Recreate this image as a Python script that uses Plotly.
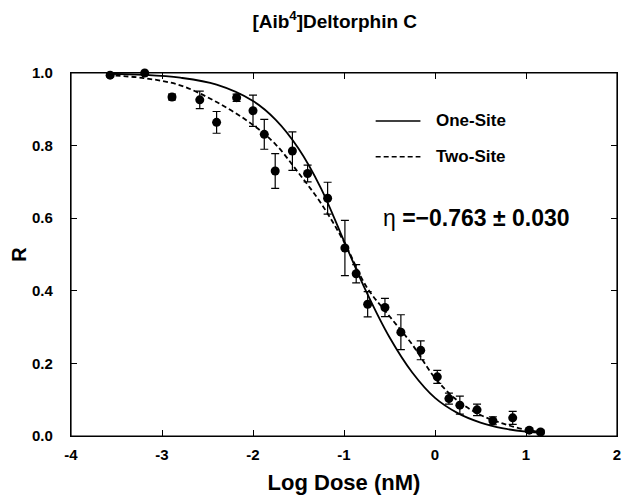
import plotly.graph_objects as go

# ---- data ----
dose_log = [-3.57, -3.19, -2.89, -2.585, -2.40, -2.18, -2.00, -1.876, -1.756, -1.567,
            -1.40, -1.18, -0.99, -0.866, -0.74, -0.55, -0.375, -0.157, 0.025, 0.153,
            0.273, 0.462, 0.636, 0.854, 1.036, 1.16]
r_mean = [0.994, 1.000, 0.934, 0.926, 0.864, 0.932, 0.896, 0.831, 0.730, 0.785,
          0.723, 0.655, 0.518, 0.447, 0.363, 0.354, 0.286, 0.236, 0.163, 0.103,
          0.085, 0.072, 0.042, 0.050, 0.016, 0.011]
r_err = [0.005, 0.004, 0.008, 0.024, 0.030, 0.010, 0.043, 0.041, 0.048, 0.053,
         0.023, 0.044, 0.076, 0.025, 0.035, 0.025, 0.048, 0.026, 0.018, 0.015,
         0.025, 0.016, 0.011, 0.018, 0.006, 0.005]

curve_x = [-3.6, -3.2, -2.8, -2.4, -2.0, -1.75, -1.5, -1.25, -1.0, -0.75,
           -0.5, -0.25, 0.0, 0.25, 0.5, 0.75, 1.0, 1.2]
one_site = [0.998, 0.995, 0.987, 0.968, 0.923, 0.871, 0.792, 0.681, 0.537, 0.395,
            0.272, 0.175, 0.105, 0.063, 0.037, 0.021, 0.012, 0.008]
two_site = [0.994, 0.986, 0.966, 0.920, 0.857, 0.803, 0.725, 0.640, 0.535, 0.410,
            0.330, 0.252, 0.160, 0.097, 0.058, 0.034, 0.017, 0.010]

x_tick_vals = [-4, -3, -2, -1, 0, 1, 2]
x_tick_text = ["-4", "-3", "-2", "-1", "0", "1", "2"]
y_tick_vals = [0.0, 0.2, 0.4, 0.6, 0.8, 1.0]

FONT = "Liberation Sans, Arial, sans-serif"

fig = go.Figure()
fig.add_trace(go.Scatter(x=curve_x, y=one_site, mode="lines", line_shape="spline",
                         line=dict(color="black", width=1.8), showlegend=False,
                         cliponaxis=False))
fig.add_trace(go.Scatter(x=curve_x, y=two_site, mode="lines", line_shape="spline",
                         line=dict(color="black", width=1.8, dash="5px,3px"),
                         showlegend=False, cliponaxis=False))
fig.add_trace(go.Scatter(x=dose_log, y=r_mean, mode="markers",
                         marker=dict(color="black", size=9, symbol="circle"),
                         error_y=dict(type="data", array=r_err, color="black",
                                      thickness=1.2, width=4),
                         showlegend=False, cliponaxis=False))

# plot frame
fig.add_shape(type="rect", xref="paper", yref="paper", x0=0, x1=1, y0=0, y1=1,
              line=dict(color="black", width=1.2), layer="above")

# legend drawn manually
legend_items = [("One-Site", "solid", 0.868), ("Two-Site", "5px,3px", 0.769)]
for name, dash, yp in legend_items:
    fig.add_shape(type="line", xref="paper", yref="paper", x0=0.558, x1=0.64,
                  y0=yp, y1=yp, line=dict(color="black", width=1.5, dash=dash))
    fig.add_annotation(xref="paper", yref="paper", x=0.665, y=yp, text=name,
                       showarrow=False, xanchor="left", yanchor="middle",
                       font=dict(family=FONT, size=17, color="black", weight="bold"))

fig.add_annotation(xref="paper", yref="paper", x=0.567, y=0.60,
                   text="η <b>=−0.763 ± 0.030</b>", showarrow=False,
                   xanchor="left", yanchor="middle",
                   font=dict(family=FONT, size=23, color="black"))

fig.update_layout(
    width=628, height=499,
    margin=dict(l=71, r=7, t=73, b=63),
    paper_bgcolor="white", plot_bgcolor="white",
    title=dict(text="[Aib<sup>4</sup>]Deltorphin C", xref="container", x=0.533,
               y=0.958, xanchor="center", yanchor="middle",
               font=dict(family=FONT, size=19, color="black", weight="bold")),
    font=dict(family=FONT, color="black"),
)
fig.update_xaxes(range=[-4, 2], tickvals=x_tick_vals, ticktext=x_tick_text,
                 showgrid=False, zeroline=False, showline=True, linecolor="black",
                 linewidth=1.2, mirror="ticks", ticks="inside", ticklen=6,
                 tickwidth=1.2, tickcolor="black",
                 tickfont=dict(family=FONT, size=15, weight="bold"),
                 ticklabelstandoff=5, ticklabeloverflow="allow",
                 title=dict(text="Log Dose (nM)", standoff=12,
                            font=dict(family=FONT, size=22, weight="bold")))
fig.update_yaxes(range=[0, 1.0], tickvals=y_tick_vals, tickformat=".1f",
                 showgrid=False, zeroline=False, showline=True, linecolor="black",
                 linewidth=1.2, mirror="ticks", ticks="inside", ticklen=6,
                 tickwidth=1.2, tickcolor="black",
                 tickfont=dict(family=FONT, size=15, weight="bold"),
                 ticklabelstandoff=14, ticklabeloverflow="allow",
                 title=dict(text="R", standoff=0,
                            font=dict(family=FONT, size=20, weight="bold")))

fig.write_html("out.html", config={"displayModeBar": False},
               post_script="document.body.style.margin='0';")
